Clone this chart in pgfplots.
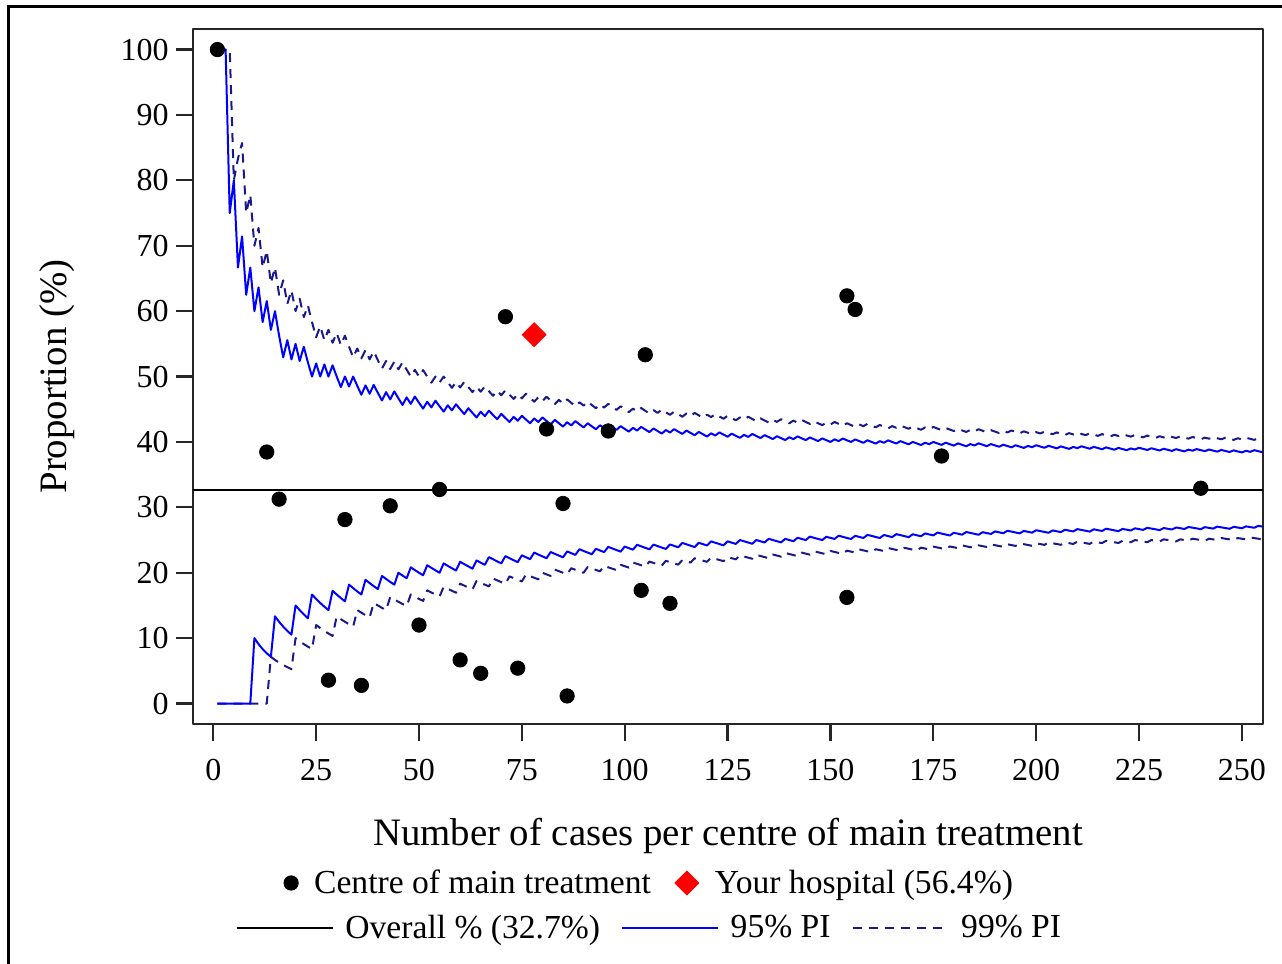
\documentclass[border=0pt]{standalone}
\usepackage{pgfplots}
\pgfplotsset{compat=1.18}
\usepackage{pgfplotstable}
\usepackage{fontspec}
\setmainfont{Liberation Serif}
\definecolor{pblue}{RGB}{0,0,255}
\definecolor{pnavy}{RGB}{25,25,140}
\pgfplotsset{
  dotlegend/.style={legend image code/.code={\path[draw=none,fill=none] (0pt,0pt) -- (11.5pt,0pt); \draw[##1] plot coordinates {(0pt,0pt)};}},
  diamlegend/.style={legend image code/.code={\path[draw=none,fill=none] (0pt,0pt) -- (14pt,0pt); \draw[##1] plot coordinates {(0pt,0pt)};}},
  linelegend/.style={legend image code/.code={\draw[##1] (0pt,0pt) -- (48pt,0pt); \path[draw=none,fill=none] (48pt,0pt) -- (54.3pt,0pt);}},
  common/.style={
    scale only axis, width=535.3pt, height=347.35pt,
    xmin=-5, xmax=255.2, ymin=-3.13, ymax=103.1,
  },
}

\pgfplotstableread{
n u95 l95 u99 l99
1 100 0 100 0
2 100 0 100 0
3 100 0 100 0
4 75 0 100 0
5 80 0 80 0
6 66.67 0 83.33 0
7 71.43 0 85.71 0
8 62.5 0 75 0
9 66.67 0 77.78 0
10 60 10 70 0
11 63.64 9.09 72.73 0
12 58.33 8.33 66.67 0
13 61.54 7.69 69.23 0
14 57.14 7.14 64.29 7.14
15 60 13.33 66.67 6.67
16 56.25 12.5 62.5 6.25
17 52.94 11.76 64.71 5.88
18 55.56 11.11 61.11 5.56
19 52.63 10.53 63.16 5.26
20 55 15 60 10
21 52.38 14.29 61.90 9.52
22 54.55 13.64 59.09 9.09
23 52.17 13.04 60.87 8.70
24 50 16.67 58.33 8.33
25 52 16 56 12
26 50 15.38 57.69 11.54
27 51.85 14.81 55.56 11.11
28 50 14.29 57.14 10.71
29 51.72 17.24 55.17 10.34
30 50 16.67 56.67 13.33
31 48.39 16.13 54.84 12.90
32 50 15.63 56.25 12.5
33 48.48 18.18 54.55 12.12
34 50 17.65 52.94 11.76
35 48.57 17.14 54.29 14.29
36 47.22 16.67 52.78 13.89
37 48.65 18.92 54.05 13.51
38 47.37 18.42 52.63 13.16
39 48.72 17.95 53.85 15.38
40 47.5 17.5 52.5 15
41 46.34 19.51 51.22 14.63
42 47.62 19.05 52.38 14.29
43 46.51 18.60 51.16 16.28
44 47.73 18.18 52.27 15.91
45 46.67 20 51.11 15.56
46 45.65 19.57 52.17 15.22
47 46.81 19.15 51.06 14.89
48 45.83 20.83 50 16.67
49 46.94 20.41 51.02 16.33
50 46 20 50 16
51 45.10 19.61 50.98 15.69
52 46.15 21.15 50 17.31
53 45.28 20.75 49.06 16.98
54 46.30 20.37 50 16.67
55 45.45 20 49.09 16.36
56 44.64 21.43 50 17.86
57 45.61 21.05 49.12 17.54
58 44.83 20.69 48.28 17.24
59 45.76 20.34 49.15 16.95
60 45 21.67 48.33 18.33
61 44.26 21.31 49.18 18.03
62 45.16 20.97 48.39 17.74
63 44.44 20.63 47.62 17.46
64 43.75 21.88 48.44 18.75
65 44.62 21.54 47.69 18.46
66 43.94 21.21 48.48 18.18
67 44.78 22.39 47.76 17.91
68 44.12 22.06 47.06 19.12
69 43.48 21.74 47.83 18.84
70 44.29 21.43 47.14 18.57
71 43.66 22.54 47.89 18.31
72 43.06 22.22 47.22 19.44
73 43.84 21.92 46.58 19.18
74 43.24 21.62 47.30 18.92
75 44 22.67 46.67 18.67
76 43.42 22.37 47.37 19.74
77 42.86 22.08 46.75 19.48
78 43.59 23.08 46.15 19.23
79 43.04 22.78 46.84 18.99
80 43.75 22.5 46.25 20
81 43.21 22.22 46.91 19.75
82 42.68 23.17 46.34 19.51
83 43.37 22.89 45.78 20.48
84 42.86 22.62 46.43 20.24
85 42.35 22.35 45.88 20
86 43.02 23.26 46.51 19.77
87 42.53 22.99 45.98 20.69
88 43.18 22.73 45.45 20.45
89 42.70 23.60 46.07 20.22
90 42.22 23.33 45.56 20
91 42.86 23.08 46.15 20.88
92 42.39 22.83 45.65 20.65
93 41.94 23.66 45.16 20.43
94 42.55 23.40 45.74 20.21
95 42.11 23.16 45.26 21.05
96 42.71 23.96 45.83 20.83
97 42.27 23.71 45.36 20.62
98 41.84 23.47 44.90 20.41
99 42.42 23.23 45.45 21.21
100 42 24 45 21
101 41.58 23.76 44.55 20.79
102 42.16 23.53 45.10 21.57
103 41.75 24.27 44.66 21.36
104 42.31 24.04 45.19 21.15
105 41.90 23.81 44.76 20.95
106 41.51 23.58 44.34 21.70
107 42.06 24.30 44.86 21.50
108 41.67 24.07 44.44 21.30
109 41.28 23.85 44.95 21.10
110 41.82 23.64 44.55 21.82
111 41.44 24.32 44.14 21.62
112 41.96 24.11 44.64 21.43
113 41.59 23.89 44.25 21.24
114 41.23 24.56 43.86 21.93
115 41.74 24.35 44.35 21.74
116 41.38 24.14 43.97 21.55
117 41.03 23.93 44.44 22.22
118 41.53 24.58 44.07 22.03
119 41.18 24.37 43.70 21.85
120 40.83 24.17 44.17 21.67
121 41.32 24.79 43.80 22.31
122 40.98 24.59 44.26 22.13
123 41.46 24.39 43.90 21.95
124 41.13 24.19 43.55 21.77
125 40.80 24.80 44.00 22.40
126 41.27 24.60 43.65 22.22
127 40.94 24.41 43.31 22.05
128 40.63 25 43.75 22.66
129 41.09 24.81 43.41 22.48
130 40.77 24.62 43.85 22.31
131 41.22 24.43 43.51 22.14
132 40.91 25 43.18 22.73
133 40.60 24.81 43.61 22.56
134 41.04 24.63 43.28 22.39
135 40.74 25.19 42.96 22.22
136 40.44 25 43.38 22.79
137 40.88 24.82 43.07 22.63
138 40.58 24.64 43.48 22.46
139 40.29 25.18 43.17 23.02
140 40.71 25 42.86 22.86
141 40.43 24.82 43.26 22.70
142 40.85 25.35 42.96 22.54
143 40.56 25.17 43.36 23.08
144 40.28 25 43.06 22.92
145 40.69 25.52 42.76 22.76
146 40.41 25.34 43.15 23.29
147 40.14 25.17 42.86 23.13
148 40.54 25 42.57 22.97
149 40.27 25.50 42.95 22.82
150 40 25.33 42.67 23.33
151 40.40 25.17 43.05 23.18
152 40.13 25.66 42.76 23.03
153 40.52 25.49 42.48 22.88
154 40.26 25.32 42.86 23.38
155 40 25.16 42.58 23.23
156 40.38 25.64 42.31 23.08
157 40.13 25.48 42.68 23.57
158 39.87 25.32 42.41 23.42
159 40.25 25.79 42.77 23.27
160 40 25.63 42.5 23.13
161 39.75 25.47 42.24 23.60
162 40.12 25.31 42.59 23.46
163 39.88 25.77 42.33 23.31
164 40.24 25.61 42.07 23.78
165 40 25.45 42.42 23.64
166 39.76 25.90 42.17 23.49
167 40.12 25.75 42.51 23.35
168 39.88 25.60 42.26 23.81
169 39.64 25.44 42.01 23.67
170 40 25.88 42.35 23.53
171 39.77 25.73 42.11 23.39
172 39.53 25.58 41.86 23.84
173 39.88 26.01 42.20 23.70
174 39.66 25.86 41.95 23.56
175 40 25.71 42.29 24
176 39.77 26.14 42.05 23.86
177 39.55 25.99 41.81 23.73
178 39.89 25.84 42.13 23.60
179 39.66 25.70 41.90 24.02
180 39.44 26.11 41.67 23.89
181 39.78 25.97 41.99 23.76
182 39.56 25.82 41.76 24.18
183 39.34 26.23 41.53 24.04
184 39.67 26.09 41.85 23.91
185 39.46 25.95 41.62 23.78
186 39.78 25.81 41.94 24.19
187 39.57 26.20 41.71 24.06
188 39.36 26.06 41.49 23.94
189 39.68 25.93 41.80 24.34
190 39.47 26.32 41.58 24.21
191 39.27 26.18 41.36 24.08
192 39.58 26.04 41.67 23.96
193 39.38 26.42 41.45 24.35
194 39.18 26.29 41.75 24.23
195 39.49 26.15 41.54 24.10
196 39.29 26.02 41.33 24.49
197 39.09 26.40 41.62 24.37
198 39.39 26.26 41.41 24.24
199 39.20 26.13 41.21 24.12
200 39.5 26.5 41.5 24.5
201 39.30 26.37 41.29 24.38
202 39.11 26.24 41.58 24.26
203 39.41 26.11 41.38 24.63
204 39.22 26.47 41.18 24.51
205 39.02 26.34 41.46 24.39
206 39.32 26.21 41.26 24.27
207 39.13 26.57 41.06 24.64
208 38.94 26.44 41.35 24.52
209 39.23 26.32 41.15 24.40
210 39.05 26.67 40.95 24.76
211 39.34 26.54 41.23 24.64
212 39.15 26.42 41.04 24.53
213 38.97 26.29 41.31 24.41
214 39.25 26.64 41.12 24.77
215 39.07 26.51 40.93 24.65
216 38.89 26.39 41.20 24.54
217 39.17 26.73 41.01 24.88
218 38.99 26.61 40.83 24.77
219 38.81 26.48 41.10 24.66
220 39.09 26.36 40.91 24.55
221 38.91 26.70 41.18 24.89
222 38.74 26.58 40.99 24.77
223 39.01 26.46 40.81 24.66
224 38.84 26.79 41.07 25
225 39.11 26.67 40.89 24.89
226 38.94 26.55 40.71 24.78
227 38.77 26.87 40.97 24.67
228 39.04 26.75 40.79 25
229 38.86 26.64 40.61 24.89
230 38.70 26.52 40.87 24.78
231 38.96 26.84 40.69 25.11
232 38.79 26.72 40.95 25
233 38.63 26.61 40.77 24.89
234 38.89 26.92 40.60 24.79
235 38.72 26.81 40.85 25.11
236 38.56 26.69 40.68 25
237 38.82 27 40.51 24.89
238 38.66 26.89 40.76 25.21
239 38.91 26.78 40.59 25.10
240 38.75 26.67 40.42 25
241 38.59 26.97 40.66 24.90
242 38.84 26.86 40.50 25.21
243 38.68 26.75 40.74 25.10
244 38.52 27.05 40.57 25
245 38.78 26.94 40.41 25.31
246 38.62 26.83 40.65 25.20
247 38.46 26.72 40.49 25.10
248 38.71 27.02 40.32 25
249 38.55 26.91 40.56 25.30
250 38.4 26.8 40.4 25.2
251 38.65 27.09 40.64 25.10
252 38.49 26.98 40.48 25.40
253 38.74 26.88 40.32 25.30
254 38.58 27.17 40.55 25.20
255 38.43 27.06 40.39 25.10
}\limits

\pgfplotstableread{
n p
1 100
13 38.46
16 31.25
28 3.57
32 28.13
36 2.78
43 30.23
50 12
55 32.73
60 6.67
65 4.62
71 59.15
74 5.41
81 41.98
85 30.59
86 1.16
96 41.67
104 17.31
105 53.33
111 15.32
154 62.34
156 60.26
154 16.23
177 37.85
240 32.92
}\centres

\begin{document}
\begin{tikzpicture}
\begin{axis}[
  common,
  xtick={0,25,...,250}, ytick={0,10,...,100},
  tick align=outside, major tick length=8.5pt,
  xtick pos=left, ytick pos=left,
  axis line style={line width=1.1pt, black!85},
  every tick/.append style={line width=1.1pt, black!85},
  tick label style={font=\fontsize{16}{19}\selectfont},
  xticklabel style={yshift=-5.5pt},
  /pgf/number format/assume math mode=true,
  xlabel={Number of cases per centre of main treatment},
  ylabel={Proportion (\%)},
  label style={font=\fontsize{19.4}{23}\selectfont},
  xlabel style={at={(axis description cs:0.5,-0.1742)}, anchor=base},
  ylabel style={at={(axis description cs:-0.1183,0.5)}, anchor=base},
  legend columns=2,
  legend style={draw=none, fill=none, at={(axis description cs:0.4257,-0.2289)}, anchor=center,
    font=\fontsize{16.8}{20}\selectfont, nodes={inner sep=0pt},
    /tikz/every odd column/.style={column sep=0pt},
    /tikz/every even column/.style={column sep=12pt}},
  line join=round,
]
\addplot[pnavy, line width=1pt, dash pattern=on 4.5pt off 3.5pt, forget plot] table[x=n, y=u99] {\limits};
\addplot[pnavy, line width=1pt, dash pattern=on 4.5pt off 3.5pt, forget plot] table[x=n, y=l99] {\limits};
\addplot[pblue, line width=1pt, forget plot] table[x=n, y=u95] {\limits};
\addplot[pblue, line width=1pt, forget plot] table[x=n, y=l95] {\limits};
\addplot[black, line width=1pt, forget plot] coordinates {(-5,32.7) (255.2,32.7)};
\addplot[only marks, mark=*, mark size=3.6pt, black, dotlegend]
  table[x=n, y=p] {\centres};
\addlegendentry{Centre of main treatment}
\addplot[only marks, mark=square*, mark size=4.24pt, red, mark options={rotate=45, fill=red, draw=red}, diamlegend]
  coordinates {(78,56.4)};
\addlegendentry{Your hospital (56.4\%)}
\end{axis}
\begin{axis}[
  common, hide axis,
  legend columns=3,
  legend style={draw=none, fill=none, at={(axis description cs:0.4257,-0.2937)}, anchor=center,
    font=\fontsize{16.8}{20}\selectfont, nodes={inner sep=0pt},
    /tikz/every odd column/.style={column sep=0pt},
    /tikz/every even column/.style={column sep=10.5pt}},
  linelegend,
]
\addlegendimage{black, line width=1pt}
\addlegendentry{Overall \% (32.7\%)}
\addlegendimage{pblue, line width=1pt}
\addlegendentry{95\% PI}
\addlegendimage{pnavy, line width=1pt, dash pattern=on 4.5pt off 3.5pt}
\addlegendentry{99\% PI}
\end{axis}
\useasboundingbox (-96.35pt,-120pt) rectangle (544.65pt,362pt);
\draw[line width=1.2pt, black] (-92.1pt,-140pt) -- (-92.1pt,358.65pt) -- (560pt,358.65pt);
\end{tikzpicture}
\end{document}
